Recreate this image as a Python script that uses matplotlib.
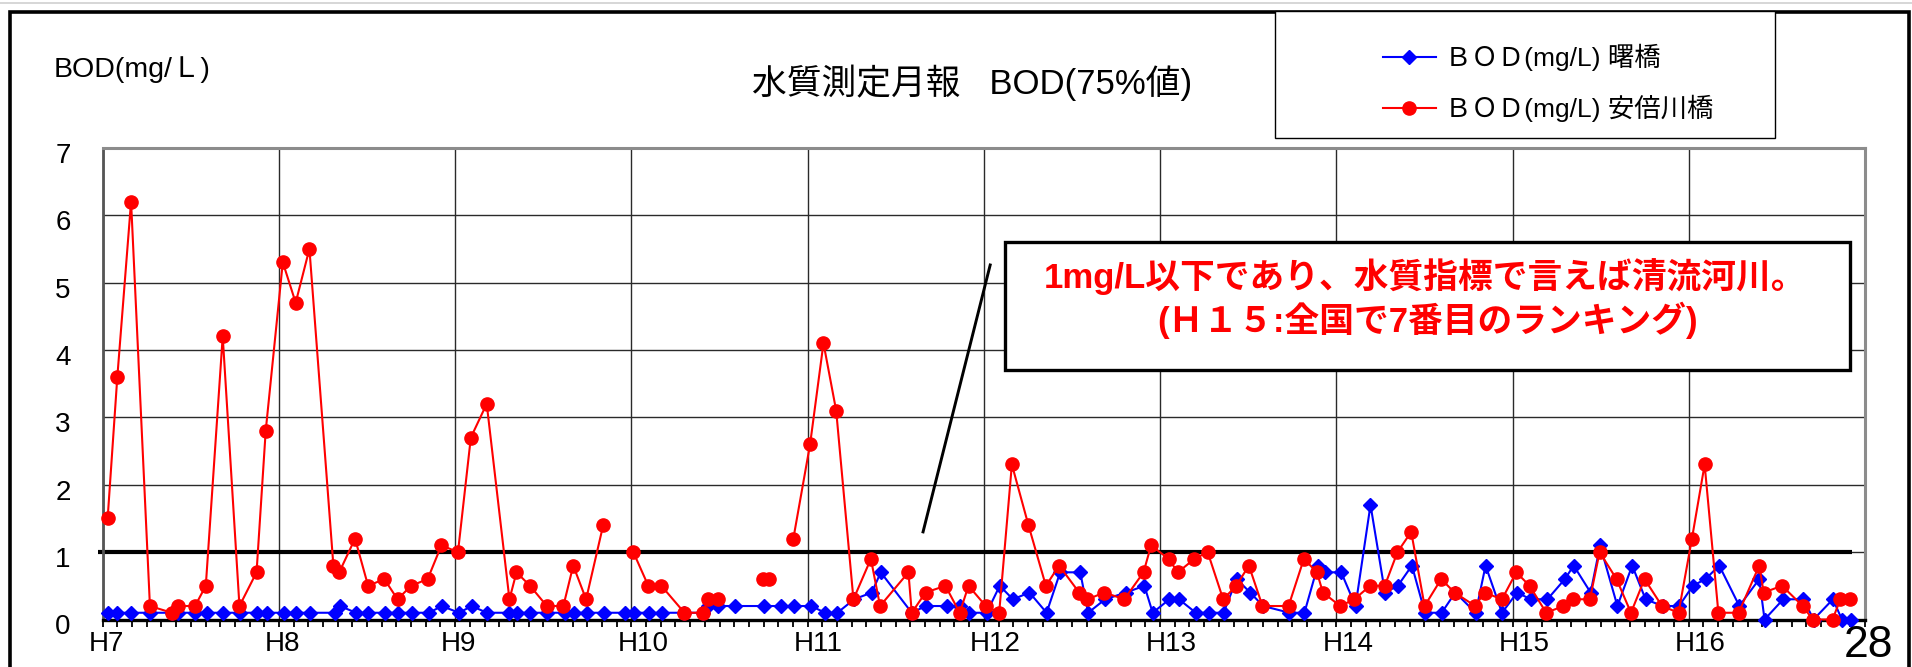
import matplotlib
matplotlib.use('Agg')
import matplotlib.pyplot as plt
import matplotlib.transforms as mtransforms
from matplotlib.patches import Rectangle
from matplotlib.lines import Line2D
from matplotlib.ticker import MultipleLocator
import numpy as np

# 和文はNoto Sans CJK JP、英数字はLiberation Sansで描く
plt.rcParams['font.family'] = ['Liberation Sans', 'Noto Sans CJK JP']

W, H = 1912, 667  # 出力サイズ(px)

# --- データ(横軸は平成の年を小数で表した採水日) ---
# 安倍川橋 BOD(mg/L)  nan は欠測(線を切る)
red_dates = [
    7.028, 7.083, 7.161, 7.268, 7.392, 7.426, 7.524, 7.585, 7.681, 7.776, 7.873, 7.925,
    8.022, 8.095, 8.173, 8.309, 8.342, 8.432, 8.506, 8.598, 8.673, 8.750, 8.844, 8.922,
    9.016, 9.089, 9.179, 9.308, 9.348, 9.425, 9.520, 9.614, 9.670, 9.743, 9.840, 9.930,
    10.011, 10.096, 10.170, 10.301, 10.406, 10.437, 10.489, 10.600, 10.745, 10.780, 10.850, 10.919,
    11.014, 11.090, 11.162, 11.260, 11.359, 11.411, 11.572, 11.591, 11.669, 11.782, 11.863, 11.913,
    12.011, 12.087, 12.159, 12.253, 12.352, 12.427, 12.541, 12.588, 12.684, 12.797, 12.906, 12.949,
    13.048, 13.101, 13.195, 13.270, 13.358, 13.432, 13.504, 13.581, 13.729, 13.816, 13.890, 13.924,
    14.022, 14.102, 14.192, 14.275, 14.347, 14.425, 14.501, 14.595, 14.671, 14.788, 14.841, 14.940,
    15.021, 15.097, 15.191, 15.289, 15.342, 15.439, 15.494, 15.590, 15.672, 15.749, 15.848, 15.942,
    16.018, 16.090, 16.168, 16.283, 16.400, 16.425, 16.529, 16.647, 16.703, 16.816, 16.860, 16.916,
]
red_bod = [
    1.5, 3.6, 6.2, 0.2, 0.1, 0.2, 0.2, 0.5, 4.2, 0.2, 0.7, 2.8,
    5.3, 4.7, 5.5, 0.8, 0.7, 1.2, 0.5, 0.6, 0.3, 0.5, 0.6, 1.1,
    1.0, 2.7, 3.2, 0.3, 0.7, 0.5, 0.2, 0.2, 0.8, 0.3, 1.4, np.nan,
    1.0, 0.5, 0.5, 0.1, 0.1, 0.3, 0.3, np.nan, 0.6, 0.6, np.nan, 1.2,
    2.6, 4.1, 3.1, 0.3, 0.9, 0.2, 0.7, 0.1, 0.4, 0.5, 0.1, 0.5,
    0.2, 0.1, 2.3, 1.4, 0.5, 0.8, 0.4, 0.3, 0.4, 0.3, 0.7, 1.1,
    0.9, 0.7, 0.9, 1.0, 0.3, 0.5, 0.8, 0.2, 0.2, 0.9, 0.7, 0.4,
    0.2, 0.3, 0.5, 0.5, 1.0, 1.3, 0.2, 0.6, 0.4, 0.2, 0.4, 0.3,
    0.7, 0.5, 0.1, 0.2, 0.3, 0.3, 1.0, 0.6, 0.1, 0.6, 0.2, 0.1,
    1.2, 2.3, 0.1, 0.1, 0.8, 0.4, 0.5, 0.2, 0.0, 0.0, 0.3, 0.3,
]

# 曙橋 BOD(mg/L)
blue_dates = [
    7.028, 7.083, 7.161, 7.268, 7.392, 7.426, 7.524, 7.590, 7.684, 7.779, 7.877, 7.931,
    8.029, 8.097, 8.177, 8.318, 8.347, 8.437, 8.507, 8.602, 8.678, 8.757, 8.852, 8.924,
    9.022, 9.094, 9.180, 9.308, 9.352, 9.425, 9.520, 9.624, 9.675, 9.747, 9.847, 9.962,
    10.016, 10.101, 10.172, 10.301, 10.406, 10.437, 10.492, 10.589, 10.753, 10.850, 10.925, 11.020,
    11.099, 11.169, 11.264, 11.364, 11.415, 11.591, 11.670, 11.790, 11.865, 11.915, 12.016, 12.090,
    12.165, 12.259, 12.356, 12.433, 12.547, 12.592, 12.688, 12.806, 12.911, 12.958, 13.053, 13.107,
    13.203, 13.279, 13.360, 13.435, 13.511, 13.585, 13.734, 13.819, 13.895, 13.935, 14.028, 14.109,
    14.194, 14.276, 14.349, 14.429, 14.503, 14.598, 14.675, 14.791, 14.847, 14.940, 15.026, 15.103,
    15.198, 15.297, 15.347, 15.443, 15.497, 15.595, 15.679, 15.755, 15.851, 15.945, 16.023, 16.095,
    16.173, 16.287, 16.400, 16.430, 16.536, 16.651, 16.708, 16.818, 16.869, 16.922,
]
blue_bod = [
    0.1, 0.1, 0.1, 0.1, 0.1, 0.1, 0.1, 0.1, 0.1, 0.1, 0.1, 0.1,
    0.1, 0.1, 0.1, 0.1, 0.2, 0.1, 0.1, 0.1, 0.1, 0.1, 0.1, 0.2,
    0.1, 0.2, 0.1, 0.1, 0.1, 0.1, 0.1, 0.1, 0.1, 0.1, 0.1, 0.1,
    0.1, 0.1, 0.1, 0.1, 0.1, 0.2, 0.2, 0.2, 0.2, 0.2, 0.2, 0.2,
    0.1, 0.1, 0.3, 0.4, 0.7, 0.1, 0.2, 0.2, 0.2, 0.1, 0.1, 0.5,
    0.3, 0.4, 0.1, 0.7, 0.7, 0.1, 0.3, 0.4, 0.5, 0.1, 0.3, 0.3,
    0.1, 0.1, 0.1, 0.6, 0.4, 0.2, 0.1, 0.1, 0.8, 0.7, 0.7, 0.2,
    1.7, 0.4, 0.5, 0.8, 0.1, 0.1, 0.4, 0.1, 0.8, 0.1, 0.4, 0.3,
    0.3, 0.6, 0.8, 0.4, 1.1, 0.2, 0.8, 0.3, 0.2, 0.2, 0.5, 0.6,
    0.8, 0.2, 0.6, 0.0, 0.3, 0.3, 0.0, 0.3, 0.0, 0.0,
]

year_ticks = list(range(7, 18))
year_labels = ['H7', 'H8', 'H9', 'H10', 'H11', 'H12', 'H13', 'H14', 'H15', 'H16', '']
bod_ticks = list(range(0, 8))
standard_level = 1.0  # 清流の目安 1mg/L

series_labels = ['ＢＯＤ(mg/L) 曙橋', 'ＢＯＤ(mg/L) 安倍川橋']
title_text = '水質測定月報   BOD(75%値)'
unit_text = 'BOD(mg/Ｌ)'
note_lines = ['1mg/L以下であり、水質指標で言えば清流河川。',
              '(Ｈ１５:全国で7番目のランキング)']
page_no = '28'


def fx(px):
    return px / W


def fy(py):
    return 1 - py / H


fig = plt.figure(figsize=(W / 100, H / 100), dpi=100)

# 外枠(下端は紙面の外まで)
fig.add_artist(Line2D([0, 1], [fy(3), fy(3)], color='#cfcfcf', lw=1.2, transform=fig.transFigure))
fig.add_artist(Rectangle((fx(10), -0.1), fx(1909) - fx(10), fy(11.5) + 0.1,
                         transform=fig.transFigure, fill=False, ec='black', lw=2.6, zorder=3))

ax = fig.add_axes([fx(102.7), fy(619.5), fx(1865) - fx(102.7), (619.5 - 147.7) / H])

blue_line, = ax.plot(blue_dates, blue_bod, color='#0000FF', lw=1.5, marker='D', ms=7,
                     mec='#0000FF', mfc='#0000FF', zorder=3, clip_on=False)
red_line, = ax.plot(red_dates, red_bod, color='#FF0000', lw=1.5, marker='o', ms=9.5,
                    mec='#FF0000', mfc='#FF0000', zorder=4, clip_on=False)

# 1mg/L の基準線
ax.hlines(standard_level, 6.975, 16.926, color='black', lw=3, zorder=2.5, clip_on=False)

# 吹き出しの引き出し線
ax.plot([11.655, 12.036], [1.30, 5.26], color='black', lw=2.1, zorder=5)

ax.set_xlim(7, 17)
ax.set_ylim(0, 7)
ax.set_xticks(year_ticks)
ax.set_xticklabels(year_labels)
ax.xaxis.set_minor_locator(MultipleLocator(1 / 12))
ax.set_yticks(bod_ticks)
ax.tick_params(axis='x', which='both', direction='out', length=5, width=1.3,
               color='black', labelsize=20, pad=3)
ax.tick_params(axis='y', length=0, labelsize=20, pad=23)
ax.grid(True, which='major', color='#2a2a2a', lw=1.0)
ax.set_axisbelow(True)

ax.spines['top'].set_color('#8c8c8c')
ax.spines['top'].set_linewidth(2.2)
ax.spines['right'].set_color('#8c8c8c')
ax.spines['right'].set_linewidth(2.2)
ax.spines['left'].set_color('#555555')
ax.spines['left'].set_linewidth(2.0)
ax.spines['bottom'].set_color('black')
ax.spines['bottom'].set_linewidth(2.4)

# 年ラベルは目盛りの少し左から左揃え
shift_x = mtransforms.ScaledTranslation(-0.14, 0, fig.dpi_scale_trans)
for lbl in ax.get_xticklabels():
    lbl.set_ha('left')
    lbl.set_transform(lbl.get_transform() + shift_x)
shift_y = mtransforms.ScaledTranslation(0, -0.05, fig.dpi_scale_trans)
for lbl in ax.get_yticklabels():
    lbl.set_transform(lbl.get_transform() + shift_y)

fig.text(fx(54), fy(70), unit_text, ha='left', va='center', fontsize=20.5)
fig.text(fx(972), fy(83), title_text, ha='center', va='center', fontsize=25)

# 凡例(白地の枠の中に置く)
fig.add_artist(Rectangle((fx(1275), fy(137.5)), fx(1775) - fx(1275), fy(11) - fy(137.5),
                         transform=fig.transFigure, fc='white', ec='black', lw=1.0, zorder=4))
fig.legend([blue_line, red_line], series_labels, loc='center left',
           bbox_to_anchor=(fx(1383), fy(83)), bbox_transform=fig.transFigure,
           frameon=False, fontsize=19, handlelength=2.0, handletextpad=0.35,
           labelspacing=0.9, borderpad=0, borderaxespad=0)

# 注記の囲み
fig.add_artist(Rectangle((fx(1005), fy(370)), fx(1850) - fx(1005), fy(242) - fy(370),
                         transform=fig.transFigure, fc='white', ec='black', lw=2.4, zorder=6))
fig.text(fx(1425), fy(277), note_lines[0], ha='center', va='center', fontsize=25,
         fontweight='bold', color='#FF0000', zorder=7)
fig.text(fx(1428), fy(320), note_lines[1], ha='center', va='center', fontsize=25,
         fontweight='bold', color='#FF0000', zorder=7)

fig.text(fx(1868), fy(625), page_no, ha='center', va='top', fontsize=32)

fig.savefig('out.png', dpi=100)
